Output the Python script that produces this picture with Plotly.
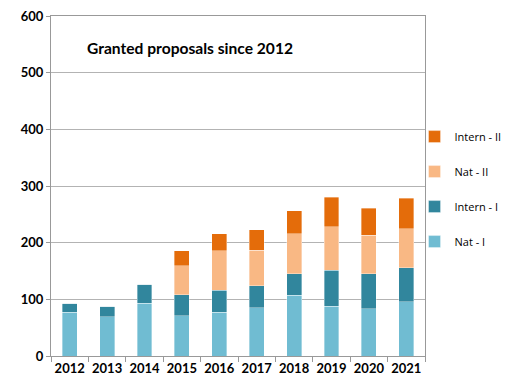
import plotly.graph_objects as go

years = ["2012", "2013", "2014", "2015", "2016", "2017", "2018", "2019", "2020", "2021"]
nat_i = [77, 69, 93, 71, 77, 85, 107, 88, 83, 96]
intern_i = [16, 19, 34, 37, 39, 39, 38, 63, 62, 60]
nat_ii = [0, 0, 0, 51, 70, 63, 71, 77, 68, 69]
intern_ii = [0, 0, 0, 27, 30, 36, 40, 52, 48, 53]

series = [
    ("Nat - I", nat_i, "#70bcd2", 4),
    ("Intern - I", intern_i, "#31869d", 3),
    ("Nat - II", nat_ii, "#f9b884", 2),
    ("Intern - II", intern_ii, "#e46c0a", 1),
]

fig = go.Figure()
for name, vals, col, rank in series:
    fig.add_trace(go.Bar(
        x=years, y=vals, name=name, legendgroup=name, legendrank=rank,
        marker=dict(color=col, line=dict(color="rgba(255,255,255,0.6)", width=0.6)),
    ))

fig.update_layout(
    barmode="stack",
    bargap=0.6,
    width=507, height=380,
    margin=dict(l=51, r=82, t=16, b=24, autoexpand=False),
    paper_bgcolor="white", plot_bgcolor="white",
    font=dict(family="Lato, Open Sans, sans-serif", size=12, color="#000"),
    showlegend=True,
    legend=dict(
        x=0.972, y=0.688, xanchor="left", yanchor="top",
        traceorder="grouped", tracegroupgap=16,
        font=dict(size=11, family="Open Sans, sans-serif"),
        itemwidth=30, bgcolor="rgba(0,0,0,0)",
    ),
    annotations=[dict(
        x=0.09, y=0.905, xref="paper", yref="paper", xanchor="left", yanchor="middle",
        text="<b>Granted proposals since 2012</b>", showarrow=False,
        font=dict(size=15.6, family="Lato, Open Sans, sans-serif"),
    )],
)
fig.update_xaxes(
    type="category", tickson="boundaries", ticks="outside", ticklen=5,
    tickangle=0, automargin=False,
    tickcolor="#999", showline=True, linecolor="#999", linewidth=1, mirror=True,
    tickfont=dict(size=13, family="Lato", weight="bold"),
    showgrid=False,
)
fig.update_yaxes(
    range=[0, 600], dtick=100, ticks="outside", ticklen=4, tickcolor="#999",
    automargin=False,
    showline=True, linecolor="#999", linewidth=1, mirror=True,
    showgrid=True, gridcolor="#b3b3b3", gridwidth=1,
    tickfont=dict(size=13, family="Lato", weight="bold"),
    zeroline=False,
)

fig.write_html("out.html")
